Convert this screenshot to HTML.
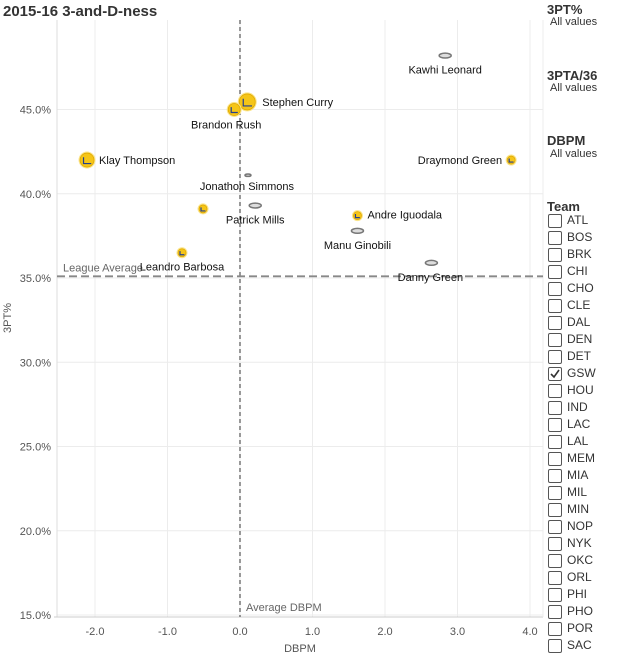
<!DOCTYPE html>
<html><head><meta charset="utf-8"><style>
body{margin:0;width:634px;height:657px;background:#fff;font-family:"Liberation Sans",Arial,sans-serif;overflow:hidden;position:relative}
.t{position:absolute;white-space:nowrap}
.cb{position:absolute;left:548px;width:12px;height:12px;border:1px solid #555;border-radius:2px;background:#fff}
.tl{position:absolute;left:567px;font-size:12px;color:#333}
</style></head><body>
<div class="t" style="left:3px;top:3px;font-size:15px;font-weight:bold;color:#333">2015-16 3-and-D-ness</div>
<svg id="chart" width="634" height="657" style="position:absolute;left:0;top:0"></svg>
<div class="t" style="left:547px;top:2px;font-size:13px;font-weight:bold;color:#333">3PT%</div>
<div class="t" style="left:550px;top:16px;font-size:11px;color:#333">All values</div>
<div class="t" style="left:547px;top:68px;font-size:13px;font-weight:bold;color:#333">3PTA/36</div>
<div class="t" style="left:550px;top:82px;font-size:11px;color:#333">All values</div>
<div class="t" style="left:547px;top:133px;font-size:13px;font-weight:bold;color:#333">DBPM</div>
<div class="t" style="left:550px;top:148px;font-size:11px;color:#333">All values</div>
<div class="t" style="left:547px;top:199px;font-size:13px;font-weight:bold;color:#333">Team</div>
<div id="teams"></div>
<script>
const teams=["ATL","BOS","BRK","CHI","CHO","CLE","DAL","DEN","DET","GSW","HOU","IND","LAC","LAL","MEM","MIA","MIL","MIN","NOP","NYK","OKC","ORL","PHI","PHO","POR","SAC"];
const tc=document.getElementById('teams');
teams.forEach((t,i)=>{
 const y=214+i*17;
 const b=document.createElement('div');b.className='cb';b.style.top=y+'px';
 
 
 if(t==='GSW'){b.innerHTML='<svg width="12" height="12" style="position:absolute;left:0;top:0"><path d="M2 6 L5 9 L10 2" stroke="#333" stroke-width="1.6" fill="none"/></svg>';}
 tc.appendChild(b);
 const l=document.createElement('div');l.className='tl';l.style.top=(y-1)+'px';l.textContent=t;
 
 
 tc.appendChild(l);
});

const players=["Kawhi Leonard","Stephen Curry","Brandon Rush","Klay Thompson","Draymond Green","Jonathon Simmons","Patrick Mills","Andre Iguodala","Manu Ginobili","Danny Green","Leandro Barbosa",""];
const dbpm=[2.83,0.10,-0.08,-2.11,3.74,0.11,0.21,1.62,1.62,2.64,-0.80,-0.51];
const pct3=[48.2,45.45,45.0,42.0,42.0,41.1,39.3,38.7,37.8,35.9,36.5,39.1];
const team=["SAS","GSW","GSW","GSW","GSW","SAS","SAS","GSW","SAS","SAS","GSW","GSW"];
const size=[6,8,6,7,4,3,6,4,6,6,4,4];
const xTicks=[-2,-1,0,1,2,3,4];
const yTicks=[15,20,25,30,35,40,45];
const leagueAvg=35.1, avgDbpm=0;

const sx=v=>240+v*72.5, sy=v=>109.5-(v-45)*16.85;
const svg=document.getElementById('chart');const NS='http://www.w3.org/2000/svg';
function el(tag,attrs,name){const e=document.createElementNS(NS,tag);for(const k in attrs)e.setAttribute(k,attrs[k]);
 
 
 svg.appendChild(e);return e;}
const L=57,R=543,T=20,B=617;
xTicks.forEach(v=>{el('line',{x1:sx(v),x2:sx(v),y1:T,y2:B,stroke:'#ececec'},'x-gridline');
 const t=el('text',{x:sx(v),y:635,'text-anchor':'middle','font-size':11,fill:'#555'},'x-tick-label');t.textContent=v.toFixed(1);});
yTicks.forEach(v=>{el('line',{x1:L,x2:R,y1:sy(v),y2:sy(v),stroke:'#ececec'},'y-gridline');
 const t=el('text',{x:51,y:sy(v)+4,'text-anchor':'end','font-size':11,fill:'#555'},'y-tick-label');t.textContent=v.toFixed(1)+'%';});
el('line',{x1:L,x2:L,y1:T,y2:B,stroke:'#ddd'},'y-axis-line');
el('line',{x1:L-3,x2:R,y1:B,y2:B,stroke:'#ccc'},'x-axis-line');
el('line',{x1:R,x2:R,y1:T,y2:B,stroke:'#ececec'},'plot-right-border');
el('line',{x1:sx(avgDbpm),x2:sx(avgDbpm),y1:T,y2:B,stroke:'#555','stroke-dasharray':'4,3','stroke-width':1.2},'average-dbpm-line');
el('line',{x1:L,x2:R,y1:sy(leagueAvg),y2:sy(leagueAvg),stroke:'#888','stroke-dasharray':'8,4','stroke-width':1.8},'league-average-line');
let t=el('text',{x:63,y:sy(leagueAvg)-5,'font-size':11,fill:'#666'},'league-average-label');t.textContent='League Average';
t=el('text',{x:sx(avgDbpm)+6,y:611,'font-size':11,fill:'#666'},'average-dbpm-label');t.textContent='Average DBPM';
t=el('text',{x:300,y:652,'text-anchor':'middle','font-size':11,fill:'#555'},'x-axis-title');t.textContent='DBPM';
t=el('text',{x:0,y:0,'text-anchor':'middle','font-size':11,fill:'#555',transform:'translate(11,318) rotate(-90)'},'y-axis-title');t.textContent='3PT%';
const lab={"Kawhi Leonard":[0,18,'middle'],"Stephen Curry":[15,4,'start'],"Brandon Rush":[-8,19,'middle'],"Klay Thompson":[12,4,'start'],"Draymond Green":[-9,4,'end'],"Jonathon Simmons":[-1,15,'middle'],"Patrick Mills":[0,18,'middle'],"Andre Iguodala":[10,3,'start'],"Manu Ginobili":[0,18,'middle'],"Danny Green":[-1,18,'middle'],"Leandro Barbosa":[0,18,'middle']};
players.forEach((p,i)=>{
 const x=sx(dbpm[i]),y=sy(pct3[i]),r=size[i];
 if(team[i]==='GSW'){
  el('circle',{cx:x,cy:y,r:r+1.5,fill:'#fbe58a'},'gsw-halo');
  el('circle',{cx:x,cy:y,r:r,fill:'#f5c518',stroke:'#e0a800','stroke-width':0.8},'gsw-point');
  el('path',{d:`M${x-r*0.5} ${y-r*0.4} L${x-r*0.5} ${y+r*0.5} L${x+r*0.6} ${y+r*0.5}`,stroke:'#25408f','stroke-width':1.2,fill:'none'},'gsw-logo');
 }else{
  el('ellipse',{cx:x,cy:y,rx:r,ry:r*0.4,fill:'#ddd',stroke:'#777','stroke-width':1.5},'sas-point');
 }
 if(p&&lab[p]){const o=lab[p];const tt=el('text',{x:x+o[0],y:y+o[1],'text-anchor':o[2],'font-size':11,fill:'#111'},'player-label');tt.textContent=p;}
});
</script>
</body></html>
